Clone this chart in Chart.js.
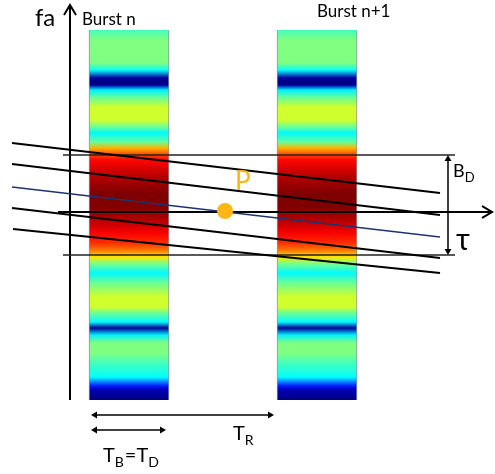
<!DOCTYPE html>
<html>
<head>
<meta charset="utf-8">
<style>
  html, body { margin: 0; padding: 0; background: #fff; }
  #wrap { width: 495px; height: 474px; }
</style>
</head>
<body>
<div id="wrap"><canvas id="chart" width="495" height="474"></canvas></div>
<script src="https://cdn.jsdelivr.net/npm/chart.js@4.4.1/dist/chart.umd.min.js"></script>
<script>
// diagram units: 1 unit = 1 px, origin where the tau axis meets the fa axis
const burstStarts = [19, 207];
const burstLength = 80;
const bandTop = 182;
const bandBottom = -188;

// colour profile down each burst: fa position -> jet colormap value
const profileF = [182, 172, 149, 142, 134, 130, 127, 122, 115, 105, 92, 85, 79, 70, 64, 59, 52, 35, 19, 5,
  -8, -21, -31, -38, -45, -51, -61, -71, -85, -95, -101, -110, -116, -123, -131, -141, -151, -165, -174, -178, -188];
const profileV = [0.44, 0.5, 0.5, 0.38, 0.03, 0, 0.03, 0.36, 0.47, 0.58, 0.58, 0.48, 0.37, 0.47, 0.7, 0.78, 0.87, 0.95, 1, 1,
  0.95, 0.88, 0.83, 0.76, 0.65, 0.5, 0.37, 0.48, 0.58, 0.58, 0.48, 0.37, 0.02, 0.36, 0.5, 0.5, 0.44, 0.38, 0.15, 0.05, 0];

// sloped lines as [tau0, fa0, tau1, fa1]
const slopedLines = [
  [-58, 69, 370, 19],
  [-58, 48, 370, -3],
  [-58, 4, 370, -46],
  [-57, -17, 370, -61]
];
const centreLine = [-58, 25, 370, -25];
const bandLimits = [57, -43];
const limitSpan = [-7, 385];
const bdArrowX = 378;
const tauAxis = [-12, 422];
const faAxis = [-188, 207];
const pointP = [155, 1];
const trArrow = [25, 200, -203];
const tbArrow = [25, 92, -218];

function jet(v) {
  const c = (x) => Math.round(255 * Math.max(0, Math.min(1, x)));
  return 'rgb(' + c(1.5 - Math.abs(4 * v - 3)) + ',' + c(1.5 - Math.abs(4 * v - 2)) + ',' + c(1.5 - Math.abs(4 * v - 1)) + ')';
}

function bandGradient(ctx) {
  const chart = ctx.chart;
  const y = chart.scales.y;
  if (!chart.chartArea || !y) return '#80ff80';
  const p0 = y.getPixelForValue(bandTop);
  const p1 = y.getPixelForValue(bandBottom);
  const g = chart.ctx.createLinearGradient(0, p0, 0, p1);
  profileF.forEach((f, i) => {
    g.addColorStop((bandTop - f) / (bandTop - bandBottom), jet(profileV[i]));
  });
  return g;
}

// open chevron used for the two axis arrows (tip at the centre, points up)
function chevron() {
  const c = document.createElement('canvas');
  c.width = 24; c.height = 24;
  const g = c.getContext('2d');
  g.strokeStyle = '#000';
  g.lineWidth = 2;
  g.beginPath();
  g.moveTo(6, 22); g.lineTo(12, 12); g.lineTo(18, 22);
  g.stroke();
  return c;
}
const head = chevron();

function seg(a) {
  return [{ x: a[0], y: a[1] }, { x: a[2], y: a[3] }];
}

const plain = { type: 'line', pointRadius: 0, borderColor: '#000', borderWidth: 2, fill: false, order: 1 };

const datasets = [
  {
    type: 'bar',
    data: burstStarts.map(s => ({ x: s + burstLength / 2, y: [bandTop, bandBottom] })),
    backgroundColor: bandGradient,
    borderColor: '#8a9a9a',
    borderWidth: { left: 1, right: 1, top: 0, bottom: 0 },
    barThickness: burstLength,
    borderSkipped: false,
    order: 10
  },
  ...slopedLines.map(l => ({ ...plain, data: seg(l) })),
  { ...plain, data: seg(centreLine), borderColor: '#1f3270', borderWidth: 1.5 },
  ...bandLimits.map(b => ({ ...plain, borderWidth: 1.4, borderColor: '#222', data: seg([limitSpan[0], b, limitSpan[1], b]) })),
  {
    ...plain, data: [{ x: tauAxis[0], y: 0 }, { x: tauAxis[1], y: 0 }],
    pointStyle: [false, head], pointRadius: [0, 5], pointRotation: [0, 90]
  },
  {
    ...plain, data: [{ x: 0, y: faAxis[0] }, { x: 0, y: faAxis[1] }],
    pointStyle: [false, head], pointRadius: [0, 5], pointRotation: [0, 0]
  },
  {
    ...plain, borderWidth: 1.5, data: [{ x: bdArrowX, y: bandLimits[0] - 4 }, { x: bdArrowX, y: bandLimits[1] + 4 }],
    pointStyle: 'triangle', pointRadius: 4, pointRotation: [0, 180], pointBackgroundColor: '#000', pointBorderWidth: 0
  },
  {
    ...plain, borderWidth: 1.5, data: [{ x: trArrow[0], y: trArrow[2] }, { x: trArrow[1], y: trArrow[2] }],
    pointStyle: 'triangle', pointRadius: 4, pointRotation: [270, 90], pointBackgroundColor: '#000', pointBorderWidth: 0
  },
  {
    ...plain, borderWidth: 1.5, data: [{ x: tbArrow[0], y: tbArrow[2] }, { x: tbArrow[1], y: tbArrow[2] }],
    pointStyle: 'triangle', pointRadius: 4, pointRotation: [270, 90], pointBackgroundColor: '#000', pointBorderWidth: 0
  },
  {
    type: 'scatter', data: [{ x: pointP[0], y: pointP[1] }],
    pointRadius: 8, pointBackgroundColor: '#fdb614', pointBorderWidth: 0, order: 0
  }
];

// text labels, parts are [text, isSubscript]
const labels = [
  { parts: [['fa', false]], x: -35, y: 186, size: 24 },
  { parts: [['Burst n', false]], x: 12, y: 187, size: 17 },
  { parts: [['Burst n+1', false]], x: 247, y: 195, size: 17 },
  { parts: [['P', false]], x: 165, y: 22, size: 26, color: '#fdb614' },
  { parts: [['B', false], ['D', true]], x: 383, y: 35, size: 18 },
  { parts: [['\u03C4', false]], x: 386, y: -38, size: 30 },
  { parts: [['T', false], ['R', true]], x: 163, y: -228, size: 20 },
  { parts: [['T', false], ['B', true], ['=T', false], ['D', true]], x: 33, y: -250, size: 20 }
];

const textPlugin = {
  id: 'texts',
  afterDatasetsDraw(chart) {
    const ctx = chart.ctx;
    const sx = chart.scales.x, sy = chart.scales.y;
    ctx.save();
    ctx.textBaseline = 'alphabetic';
    labels.forEach(l => {
      let px = sx.getPixelForValue(l.x);
      const py = sy.getPixelForValue(l.y);
      ctx.fillStyle = l.color || '#000';
      l.parts.forEach(([t, sub]) => {
        const size = sub ? Math.round(l.size * 0.7) : l.size;
        ctx.font = size + 'px Lato, "Open Sans", sans-serif';
        ctx.fillText(t, px, py + (sub ? l.size * 0.25 : 0));
        px += ctx.measureText(t).width + (sub ? 1 : 0);
      });
    });
    ctx.restore();
  }
};

new Chart(document.getElementById('chart'), {
  type: 'line',
  data: { datasets },
  options: {
    responsive: false,
    animation: false,
    devicePixelRatio: 1,
    layout: { padding: 0, autoPadding: false },
    scales: {
      x: { type: 'linear', min: -70, max: 425, display: false, offset: false },
      y: { type: 'linear', min: -262, max: 212, display: false }
    },
    plugins: { legend: { display: false }, tooltip: { enabled: false } }
  },
  plugins: [textPlugin]
});
</script>
</body>
</html>
